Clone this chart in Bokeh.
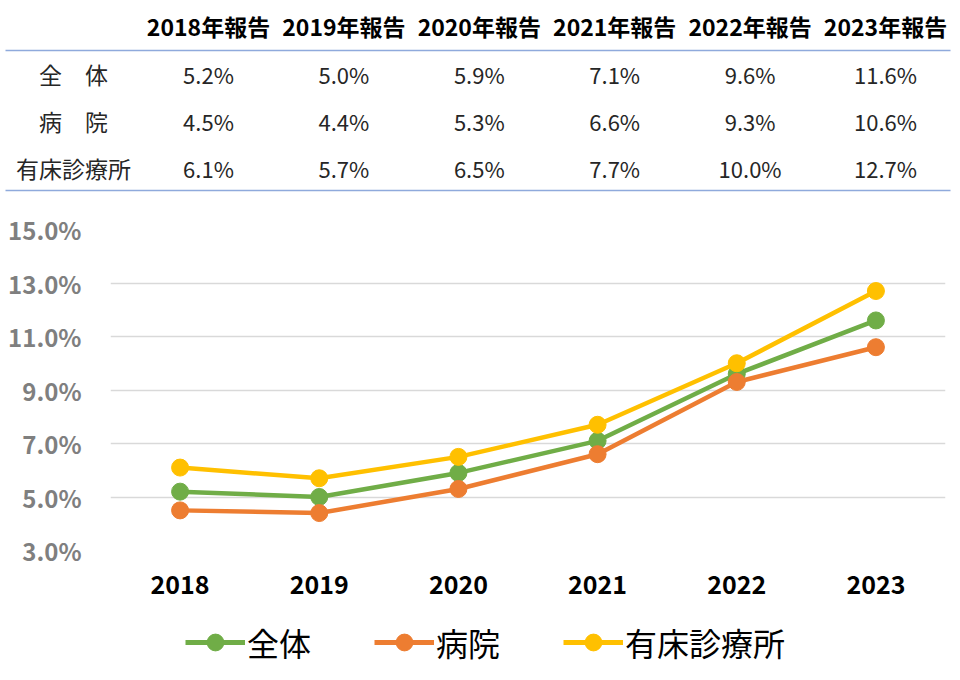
from bokeh.plotting import figure
from bokeh.models import Range1d, FactorRange, Legend, LegendItem, PrintfTickFormatter, FixedTicker
from bokeh.embed import file_html
from bokeh.resources import INLINE
from bokeh.core.properties import value

FONT = "Noto Sans CJK JP"

years = ["2018", "2019", "2020", "2021", "2022", "2023"]
report_labels = ["2018年報告", "2019年報告", "2020年報告", "2021年報告", "2022年報告", "2023年報告"]
series_names = ["全体", "病院", "有床診療所"]
row_labels = ["全　体", "病　院", "有床診療所"]
zentai = [5.2, 5.0, 5.9, 7.1, 9.6, 11.6]
byoin = [4.5, 4.4, 5.3, 6.6, 9.3, 10.6]
yusho = [6.1, 5.7, 6.5, 7.7, 10.0, 12.7]
y_ticks = [3, 5, 7, 9, 11, 13, 15]
colors = ["#70AD47", "#ED7D31", "#FFC000"]

series = [zentai, byoin, yusho]

W = 955
TH = 195
CH = 415
LH = 62

# ---------------- table ----------------
t = figure(width=W, height=TH, x_range=Range1d(0, W), y_range=Range1d(TH, 0),
           toolbar_location=None, output_backend="svg", min_border=0)
t.axis.visible = False
t.grid.visible = False
t.outline_line_color = None

col_x = [208 + i * 135.4 for i in range(len(years))]
t.text(x=col_x, y=[25] * len(years), text=report_labels, text_align="center",
       text_baseline="middle", text_font_size="23px", text_font_style="bold",
       text_font=value(FONT), text_color="#000000")
t.segment(x0=[5, 5], y0=[50, 190], x1=[950, 950], y1=[50, 190],
          line_color="#8faadc", line_width=1.5)
row_y = [73, 120, 167]
for ry, lab, vals in zip(row_y, row_labels, series):
    t.text(x=[73], y=[ry], text=[lab], text_align="center", text_baseline="middle",
           text_font_size="23px", text_font=value(FONT), text_color="#262626")
    t.text(x=col_x, y=[ry] * len(vals), text=[f"{v:.1f}%" for v in vals],
           text_align="center", text_baseline="middle", text_font_size="22px",
           text_font=value(FONT), text_color="#262626")

# ---------------- chart ----------------
p = figure(width=W, height=CH, x_range=FactorRange(*years), y_range=Range1d(3, 15),
           toolbar_location=None, output_backend="svg",
           min_border_left=110, min_border_right=10, min_border_top=34, min_border_bottom=60)
p.outline_line_color = None
p.xgrid.visible = False
p.ygrid.grid_line_color = "#d9d9d9"
p.ygrid.grid_line_width = 1.5

p.yaxis.ticker = FixedTicker(ticks=y_ticks)
p.yaxis.formatter = PrintfTickFormatter(format="%.1f%%")
p.yaxis.axis_line_color = None
p.yaxis.major_tick_line_color = None
p.yaxis.minor_tick_line_color = None
p.yaxis.major_label_text_font = FONT
p.yaxis.major_label_text_font_size = "24px"
p.yaxis.major_label_text_font_style = "bold"
p.yaxis.major_label_text_color = "#7f7f7f"
p.yaxis.major_label_standoff = 23

p.xaxis.axis_line_color = None
p.xaxis.major_tick_line_color = None
p.xaxis.minor_tick_line_color = None
p.xaxis.major_label_text_font = FONT
p.xaxis.major_label_text_font_size = "25px"
p.xaxis.major_label_text_font_style = "bold"
p.xaxis.major_label_text_color = "#000000"
p.xaxis.major_label_standoff = 18

for vals, c in zip(series, colors):
    p.line(x=years, y=vals, line_color=c, line_width=4.5)
    p.scatter(x=years, y=vals, size=17, fill_color=c, line_color=c)

# ---------------- legend ----------------
lg = figure(width=W, height=LH, x_range=Range1d(0, 1), y_range=Range1d(0, 1),
            toolbar_location=None, output_backend="svg", min_border=0)
lg.axis.visible = False
lg.grid.visible = False
lg.outline_line_color = None
items = []
for name, vals, c in zip(series_names, series, colors):
    lr = lg.line(x=years, y=vals, line_color=c, line_width=5)
    sr = lg.scatter(x=years, y=vals, size=17, fill_color=c, line_color=c)
    items.append(LegendItem(label=name, renderers=[lr, sr]))

legend = Legend(items=items, orientation="horizontal", location=(185, 7),
                glyph_width=60, glyph_height=42, label_text_font=FONT,
                label_text_font_size="32px", label_text_color="#000000",
                spacing=63, label_standoff=2, padding=0, margin=0,
                border_line_color=None, background_fill_color=None)
lg.add_layout(legend, "center")

open("out.html", "w").write(file_html([t, p, lg], INLINE))
